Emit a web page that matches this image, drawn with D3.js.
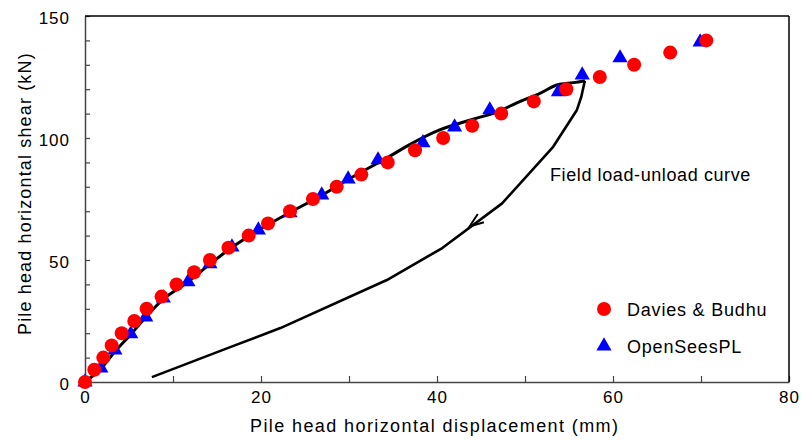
<!DOCTYPE html>
<html>
<head>
<meta charset="utf-8">
<script src="https://cdn.jsdelivr.net/npm/d3@7"></script>
<style>
  html, body { margin: 0; padding: 0; background: #fff; }
  svg { display: block; font-family: "Liberation Sans", Arial, sans-serif; }
</style>
</head>
<body>
<svg id="chart" width="802" height="441"></svg>
<script>
// ---------------- data ----------------
const seriesNames = ["Davies & Budhu", "OpenSeesPL"];

// Davies & Budhu (red circles): displacement (mm), shear (kN)
const daviesDisp  = [0, 1.06, 2.08, 3.03, 4.17, 5.6, 7.0, 8.7, 10.4, 12.4, 14.2, 16.3, 18.6, 20.8, 23.3,
                     25.9, 28.6, 31.4, 34.4, 37.5, 40.7, 44.0, 47.3, 51.0, 54.7, 58.5, 62.4, 66.5, 70.6];
const daviesShear = [0, 5, 10, 15, 20, 25, 30, 35, 40, 45, 50, 55, 60, 65, 70,
                     75, 80, 85, 90, 95, 100, 105, 110, 115, 120, 125, 130, 135, 140];

// OpenSeesPL (blue triangles)
const openseesDisp  = [0, 1.8, 3.4, 5.2, 6.9, 8.9, 11.7, 14.2, 16.7, 19.7, 23.3, 26.9, 29.9, 33.3,
                       38.4, 42.0, 46.0, 53.8, 56.5, 60.8, 69.9];
const openseesShear = [0, 5.7, 13.1, 19.7, 26.6, 34.4, 41.0, 48.4, 55.3, 62.3, 69.3, 76.6, 83.2, 91.0,
                       98.0, 104.5, 111.5, 118.9, 125.8, 132.8, 139.3];

// Field load curve
const loadDisp  = [0, 1.8, 3.4, 5.2, 6.9, 8.9, 11.7, 14.2, 16.7, 19.7, 23.3, 26.9, 29.9, 34.3,
                   37.0, 40.3, 44.1, 46.6, 49.4, 51.7, 53.6, 55.5, 56.8];
const loadShear = [0, 5.5, 12.5, 19.5, 26.5, 34.0, 41.0, 48.3, 55.2, 62.2, 69.5, 76.5, 83.0, 91.8,
                   97.5, 103.3, 107.7, 110.4, 114.9, 118.3, 121.7, 122.7, 123.5];

// Field unload curve
const unloadDisp  = [56.8, 56.4, 55.9, 53.2, 47.4, 40.6, 34.3, 22.2, 16.5, 7.6];
const unloadShear = [123.5, 116.9, 111.5, 96.4, 73.2, 54.9, 41.8, 22.1, 14.3, 2.0];
const arrowTip    = [43.7, 63.7];   // arrow head location on unload branch

const xTickValues = [0, 10, 20, 30, 40, 50, 60, 70, 80];
const xTickLabels = [0, 20, 40, 60, 80];
const yTickValues = [0, 10, 20, 30, 40, 50, 60, 70, 80, 90, 100, 110, 120, 130, 140, 150];
const yTickLabels = [0, 50, 100, 150];

const xTitle = "Pile head horizontal displacement (mm)";
const yTitle = "Pile head horizontal shear (kN)";
const annotation = "Field load-unload curve";

// ---------------- chart ----------------
const svg = d3.select("#chart");
const x = d3.scaleLinear().domain([0, 80]).range([85, 789]);
const y = d3.scaleLinear().domain([0, 150]).range([382, 16]);

const axisColor = "#444";

// x axis (inward ticks)
const gx = svg.append("g").attr("transform", `translate(0,${y(0)})`)
  .call(d3.axisBottom(x).tickValues(xTickValues).tickSizeInner(-6).tickSizeOuter(0).tickPadding(9)
    .tickFormat(d => xTickLabels.includes(d) ? d : ""));
gx.select(".domain").attr("stroke", axisColor).attr("stroke-width", 1.5);
gx.selectAll(".tick line").attr("stroke", axisColor).attr("stroke-width", 1.2);
gx.selectAll(".tick text").attr("font-size", 17).attr("fill", "#000")
  .attr("font-family", "Liberation Sans, Arial, sans-serif").style("letter-spacing", "1px");

// y axis
const gy = svg.append("g").attr("transform", `translate(${x(0)},0)`)
  .call(d3.axisLeft(y).tickValues(yTickValues).tickSizeInner(-5).tickSizeOuter(0).tickPadding(15)
    .tickFormat(d => yTickLabels.includes(d) ? d : ""));
gy.select(".domain").attr("stroke", axisColor).attr("stroke-width", 1.5);
gy.selectAll(".tick line").attr("stroke", axisColor).attr("stroke-width", 1.2);
gy.selectAll(".tick text").attr("font-size", 17).attr("fill", "#000").attr("dy", "0.44em")
  .attr("font-family", "Liberation Sans, Arial, sans-serif").style("letter-spacing", "1px");

// top and right frame
svg.append("line").attr("x1", x(0)).attr("x2", x(80)).attr("y1", y(150)).attr("y2", y(150))
  .attr("stroke", "#000").attr("stroke-width", 1.5);
svg.append("line").attr("x1", x(80)).attr("x2", x(80)).attr("y1", y(150)).attr("y2", y(0))
  .attr("stroke", "#000").attr("stroke-width", 1.5);

// field curves
const loadPts = loadDisp.map((d, i) => [d, loadShear[i]]);
const unloadPts = unloadDisp.map((d, i) => [d, unloadShear[i]]);
svg.append("path")
  .attr("d", d3.line().x(d => x(d[0])).y(d => y(d[1])).curve(d3.curveCatmullRom)(loadPts))
  .attr("fill", "none").attr("stroke", "#000").attr("stroke-width", 3).attr("stroke-linejoin", "round");
svg.append("path")
  .attr("d", d3.line().x(d => x(d[0])).y(d => y(d[1]))(unloadPts))
  .attr("fill", "none").attr("stroke", "#000").attr("stroke-width", 2.6).attr("stroke-linejoin", "round");

// arrow head (open V) pointing along unload direction
{
  const tx = x(arrowTip[0]), ty = y(arrowTip[1]);
  const a = [x(47.4), y(73.2)], b = [x(40.6), y(54.9)];
  const ang = Math.atan2(a[1] - b[1], a[0] - b[0]); // backwards direction
  const L = 15, spread = 20 * Math.PI / 180;
  const p1 = [tx + L * Math.cos(ang - spread), ty + L * Math.sin(ang - spread)];
  const p2 = [tx + L * Math.cos(ang + spread), ty + L * Math.sin(ang + spread)];
  svg.append("path").attr("d", `M${p1[0]},${p1[1]}L${tx},${ty}L${p2[0]},${p2[1]}`)
    .attr("fill", "none").attr("stroke", "#000").attr("stroke-width", 2);
}

// OpenSeesPL triangles
const tri = d3.symbol().type(d3.symbolTriangle).size(100);
svg.append("g").selectAll("path").data(openseesDisp.map((d, i) => [d, openseesShear[i]]))
  .join("path").attr("d", tri).attr("transform", d => `translate(${x(d[0])},${y(d[1])})`)
  .attr("fill", "#0000ff");

// Davies & Budhu circles
svg.append("g").selectAll("circle").data(daviesDisp.map((d, i) => [d, daviesShear[i]]))
  .join("circle").attr("cx", d => x(d[0])).attr("cy", d => y(d[1])).attr("r", 7)
  .attr("fill", "#ff0000");

// annotation
svg.append("text").attr("x", 550).attr("y", 181).attr("font-size", 18).style("letter-spacing", "0.6px")
  .text(annotation);

// axis titles
svg.append("text").attr("x", 250).attr("y", 432).attr("font-size", 18).style("letter-spacing", "1.4px")
  .text(xTitle);
svg.append("text").attr("transform", "translate(31,335) rotate(-90)").attr("font-size", 18)
  .style("letter-spacing", "1.15px").text(yTitle);

// legend
const legend = svg.append("g");
const legendItems = seriesNames.map((n, i) => ({ name: n, idx: i }));
legend.selectAll("g").data(legendItems).join("g")
  .attr("transform", d => `translate(604,${309 + d.idx * 37})`)
  .each(function (d) {
    const g = d3.select(this);
    if (d.idx === 0) g.append("circle").attr("r", 7).attr("fill", "#ff0000");
    else g.append("path").attr("d", tri).attr("fill", "#0000ff");
    g.append("text").attr("x", 23).attr("y", 7).attr("font-size", 18)
      .style("letter-spacing", "0.8px").text(d.name);
  });
</script>
</body>
</html>
